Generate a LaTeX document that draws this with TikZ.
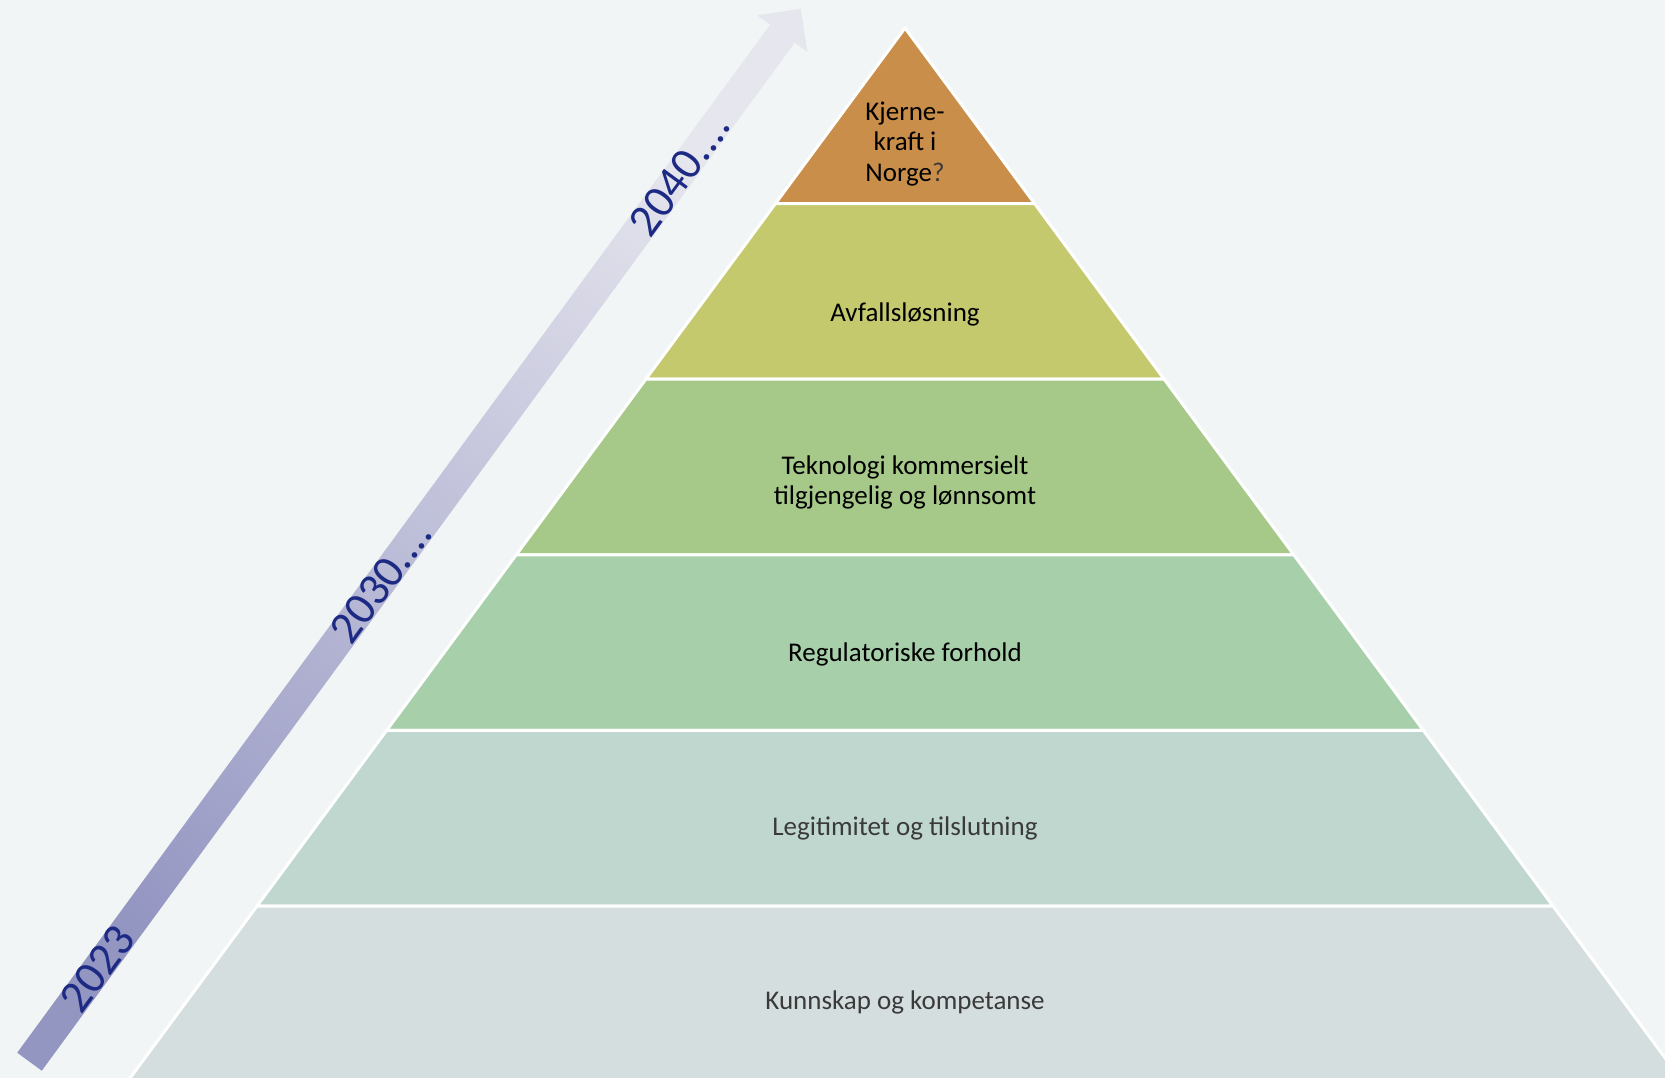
\documentclass[tikz,border=0pt]{standalone}
\usepackage{fontspec}
\setmainfont{Carlito}
\definecolor{bgcol}{HTML}{F1F5F5}
\definecolor{lvA}{HTML}{C98F4A}
\definecolor{lvB}{HTML}{C3C96C}
\definecolor{lvC}{HTML}{A6C98A}
\definecolor{lvD}{HTML}{A6CFAA}
\definecolor{lvE}{HTML}{BFD7CF}
\definecolor{lvF}{HTML}{D5DEDF}
\definecolor{arrDark}{HTML}{9496C2}
\definecolor{arrLight}{HTML}{E6E6EE}
\definecolor{yearcol}{HTML}{1C2A84}
\definecolor{greytext}{HTML}{3A3A3A}
\begin{document}
\begin{tikzpicture}[x=1pt,y=-1pt,
  layer/.style={draw=white,line width=3pt,line join=round},
  lvtext/.style={font=\fontsize{27}{30.5}\selectfont,align=center,inner sep=0pt,anchor=base},
  yeartext/.style={font=\fontsize{46}{50}\selectfont,text=yearcol,inner sep=0pt,rotate=53.77}]
\useasboundingbox (0,0) rectangle (1665,1078);
\fill[bgcol] (0,0) rectangle (1665,1078);

% time arrow with gradient
\shade[bottom color=arrDark, top color=arrLight, shading angle=-36.2]
  (17.2,1052.7) -- (770.1,24.7) -- (757.4,15.4) -- (800.7,8.7)
  -- (807.4,52.0) -- (794.7,42.7) -- (41.8,1070.7) -- cycle;
\node[yeartext] (y2023) at (97.5,968.9) {2023};
\node[yeartext] (y2030) at (381.1,581.5) {2030....};
\node[yeartext] (y2040) at (679.6,174.0) {2040....};

% pyramid layers, apex at (905,28), equal heights
\begin{scope}
\clip (0,0) rectangle (1665,1078);
\foreach \i/\c in {0/lvA,1/lvB,2/lvC,3/lvD,4/lvE,5/lvF}{
  \pgfmathsetmacro{\yt}{28+175.6*\i}
  \pgfmathsetmacro{\yb}{28+175.6*(\i+1)}
  \pgfmathsetmacro{\ht}{0.738*(\yt-28)}
  \pgfmathsetmacro{\hb}{0.738*(\yb-28)}
  \filldraw[layer,fill=\c] ({905-\ht},\yt) -- ({905+\ht},\yt)
    -- ({905+\hb},\yb) -- ({905-\hb},\yb) -- cycle;
}
\end{scope}

% layer labels (base anchor = baseline of the last line)
\node[lvtext] (topp) at (905,181.5) {Kjerne-\\kraft i\\Norge\textcolor{greytext}{?}};
\node[lvtext] (avfall) at (905,321) {Avfallsløsning};
\node[lvtext] (tekn) at (905,504.5) {Teknologi kommersielt\\tilgjengelig og lønnsomt};
\node[lvtext] (regul) at (905,661) {Regulatoriske forhold};
\node[lvtext,text=greytext] (legit) at (905,835) {Legitimitet og tilslutning};
\node[lvtext,text=greytext] (kunn) at (905,1009) {Kunnskap og kompetanse};
\end{tikzpicture}
\end{document}
